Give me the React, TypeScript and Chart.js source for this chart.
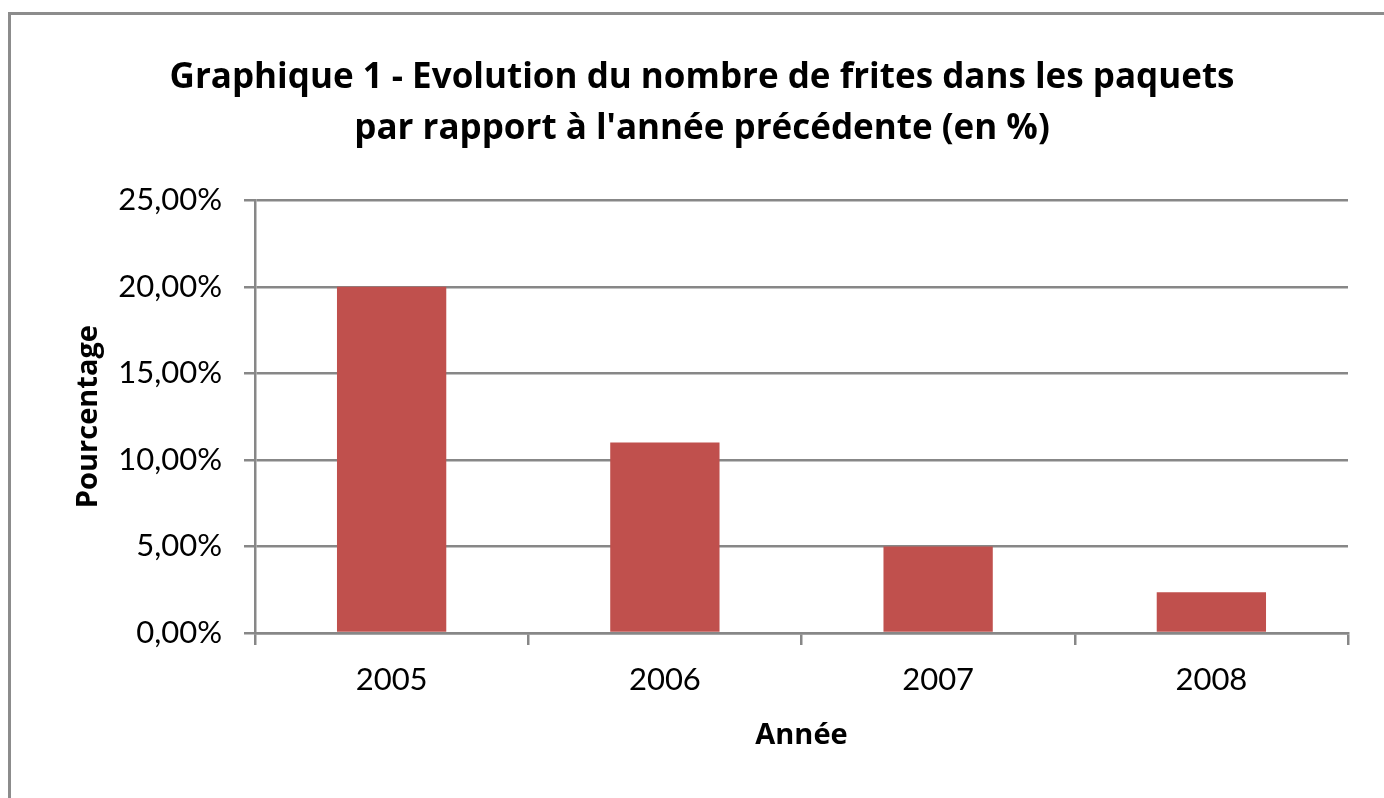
import React, { useEffect, useRef } from 'react';
import { Chart, registerables } from 'chart.js';

Chart.register(...registerables);

const categories = ['2005', '2006', '2007', '2008'];
const values = [20.0, 11.0, 5.0, 2.35];
const yMin = 0;
const yMax = 25;
const yStep = 5;
const titleLines = [
  'Graphique 1 - Evolution du nombre de frites dans les paquets',
  "par rapport à l'année précédente (en %)",
];
const xAxisTitle = 'Année';
const yAxisTitle = 'Pourcentage';

const FONT = 'Lato, "Open Sans", sans-serif';
const BOLD_FONT = '"Open Sans", Lato, sans-serif';
const GRID = '#878787';
const BAR = '#C0504D';

export default function App() {
  const ref = useRef<HTMLCanvasElement | null>(null);

  useEffect(() => {
    if (!ref.current) return;
    const chart = new Chart(ref.current, {
      type: 'bar',
      data: {
        labels: categories,
        datasets: [
          {
            data: values,
            backgroundColor: BAR,
            borderWidth: 0,
            categoryPercentage: 1,
            barPercentage: 0.4,
          },
        ],
      },
      options: {
        responsive: false,
        animation: false,
        devicePixelRatio: 1,
        layout: { padding: { left: 56, right: 36, top: 0, bottom: 0 } },
        plugins: {
          legend: { display: false },
          tooltip: { enabled: false },
          title: {
            display: true,
            text: titleLines,
            color: '#000',
            font: { family: BOLD_FONT, size: 35, weight: 'bold', lineHeight: 1.46 },
            padding: { top: 52, bottom: 46 },
          },
        },
        scales: {
          x: {
            afterFit: (s: any) => {
              s.height = 165;
            },
            grid: {
              display: true,
              drawOnChartArea: false,
              drawTicks: true,
              tickLength: 12,
              color: GRID,
              lineWidth: 2.5,
              offset: true,
            },
            border: { display: true, color: GRID, width: 2.5 },
            ticks: {
              color: '#000',
              padding: 16,
              font: { family: FONT, size: 31 },
            },
            title: {
              display: true,
              text: xAxisTitle,
              color: '#000',
              font: { family: BOLD_FONT, size: 29, weight: 'bold', lineHeight: 1.2 },
              padding: { top: 0, bottom: 45 },
            },
          },
          y: {
            min: yMin,
            max: yMax,
            afterFit: (s: any) => {
              s.width = 199;
            },
            grid: {
              color: GRID,
              lineWidth: 2.5,
              drawTicks: true,
              tickLength: 11,
            },
            border: { display: true, color: GRID, width: 2.5 },
            ticks: {
              stepSize: yStep,
              color: '#000',
              padding: 22,
              font: { family: FONT, size: 31 },
              callback: (v: any) => Number(v).toFixed(2).replace('.', ',') + '%',
            },
            title: {
              display: true,
              text: yAxisTitle,
              color: '#000',
              font: { family: BOLD_FONT, size: 29, weight: 'bold', lineHeight: 1.2 },
              padding: { top: 15, bottom: 0 },
            },
          },
        },
      },
    });
    return () => chart.destroy();
  }, []);

  return (
    <div
      style={{
        position: 'fixed',
        left: 0,
        top: 0,
        width: 1384,
        height: 798,
        background: '#fff',
        overflow: 'hidden',
      }}
    >
      <div
        style={{
          position: 'absolute',
          left: 8,
          top: 12,
          width: 1420,
          height: 820,
          border: '3px solid #8c8c8c',
          boxSizing: 'border-box',
        }}
      />
      <canvas
        ref={ref}
        width={1384}
        height={798}
        style={{ position: 'absolute', left: 0, top: 0, width: 1384, height: 798 }}
      />
    </div>
  );
}
